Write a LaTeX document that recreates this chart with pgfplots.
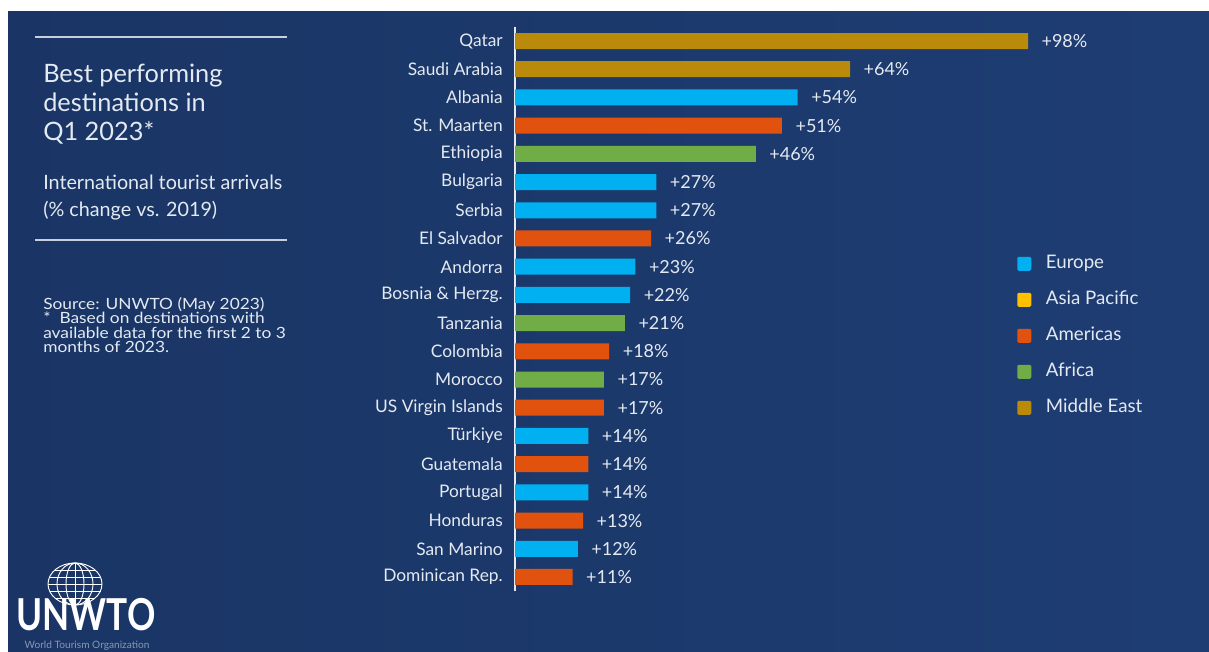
\documentclass[border=0pt]{standalone}
\usepackage{fontspec}
\setmainfont{Lato}
\usepackage{pgfplots}
\pgfplotsset{compat=1.18}
\definecolor{bgL}{HTML}{1A3565}
\definecolor{bgR}{HTML}{1E3D73}
\definecolor{txt}{HTML}{E4EAF2}
\definecolor{eu}{HTML}{00B0F0}
\definecolor{ap}{HTML}{FFC000}
\definecolor{am}{HTML}{E0520E}
\definecolor{af}{HTML}{70AD47}
\definecolor{me}{HTML}{BA8A0A}
\begin{document}
\begin{tikzpicture}[x=0.75pt,y=0.75pt]
\fill[white] (0,0) rectangle (1209,652);
\shade[left color=bgL,right color=bgR] (8,0) rectangle (1209,640);
% left panel
\draw[txt!85!bgL, line width=1.4pt] (35,615) -- (287,615);
\node[anchor=north west, inner sep=0, align=left, text=txt, font=\fontsize{19}{21.5}\selectfont] at (43,588) {Best performing\\destinations in\\Q1 2023*};
\node[anchor=north west, inner sep=0, align=left, text=txt, font=\fontsize{14.8}{20}\selectfont] at (43,477) {International tourist arrivals\\(\% change vs. 2019)};
\draw[txt!85!bgL, line width=1.4pt] (35,412) -- (287,412);
\node[anchor=north west, inner sep=0, align=left, text=txt, font=\fontsize{11.6}{10.7}\selectfont, xscale=1.12] at (43,355) {Source: UNWTO (May 2023)};
\node[anchor=north west, inner sep=0, align=left, text=txt, font=\fontsize{11.6}{10.7}\selectfont, xscale=1.12] at (43,340) {*\ \ Based on destinations with\\available data for the first 2 to 3\\months of 2023.};
% logo
\begin{scope}[white, line width=0.7pt]
\draw (75,68) ellipse (27 and 21);
\draw (75,68) ellipse (18 and 21);
\draw (75,68) ellipse (9 and 21);
\draw (75,47) -- (75,89);
\draw (48,68) -- (102,68);
\draw (49.5,75) -- (100.5,75);
\draw (49.5,61) -- (100.5,61);
\draw (54.9,82) -- (95.1,82);
\draw (54.9,54) -- (95.1,54);
\end{scope}
\node[text=white, inner sep=0, font=\fontsize{33}{33}\selectfont\bfseries, xscale=0.8] at (86,37) {UNWTO};
\node[text=txt!55!bgL, inner sep=0, font=\fontsize{7.6}{8}\selectfont] at (87,6) {World Tourism Organization};
\begin{axis}[
  at={(386.25pt,45.675pt)}, anchor=south west,
  width=392.6pt, height=423.15pt, scale only axis,
  xbar, bar width=12pt, bar shift=0pt,
  xmin=0, xmax=100, ymin=-0.5, ymax=19.5, y dir=reverse,
  axis x line=none, axis y line=left,
  axis line style={-, draw=txt, line width=1.2pt},
  ytick={0,...,19},
  yticklabels={Qatar, Saudi Arabia, Albania, St. Maarten, Ethiopia, Bulgaria, Serbia, El Salvador, Andorra, Bosnia \& Herzg., Tanzania, Colombia, Morocco, US Virgin Islands, Türkiye, Guatemala, Portugal, Honduras, San Marino, Dominican Rep.},
  major tick length=0pt,
  yticklabel style={font=\fontsize{13}{14}\selectfont, text=txt, inner sep=0pt, xshift=-9pt},
  /pgf/number format/assume math mode=true,
  point meta=x,
  nodes near coords={+\pgfmathprintnumber{\pgfplotspointmeta}\%},
  nodes near coords style={font=\fontsize{13.5}{14}\selectfont, text=txt, anchor=west, inner sep=0pt, xshift=10pt},
  clip=false,
  legend image code/.code={\fill[#1, draw=none, rounded corners=1pt] (0pt,-5.25pt) rectangle (10.5pt,5.25pt);},
  legend style={at={(axis description cs:0.959,0.596)}, anchor=north west, draw=none, fill=none, text=txt, font=\fontsize{14}{16}\selectfont, row sep=14pt, inner sep=0pt, nodes={inner sep=0pt, text height=10pt, text depth=3pt}, column sep=11pt},
  legend cell align=left,
]
\addlegendimage{fill=eu, draw=none}
\addlegendentry{Europe}
\addlegendimage{fill=ap, draw=none}
\addlegendentry{Asia Pacific}
\addlegendimage{fill=am, draw=none}
\addlegendentry{Americas}
\addlegendimage{fill=af, draw=none}
\addlegendentry{Africa}
\addlegendimage{fill=me, draw=none}
\addlegendentry{Middle East}
\addplot[forget plot, fill=me, draw=none] coordinates {(98,0) (64,1)};
\addplot[forget plot, fill=eu, draw=none] coordinates {(54,2) (27,5) (27,6) (23,8) (22,9) (14,14) (14,16) (12,18)};
\addplot[forget plot, fill=am, draw=none] coordinates {(51,3) (26,7) (18,11) (17,13) (14,15) (13,17) (11,19)};
\addplot[forget plot, fill=af, draw=none] coordinates {(46,4) (21,10) (17,12)};
\end{axis}
\end{tikzpicture}
\end{document}
